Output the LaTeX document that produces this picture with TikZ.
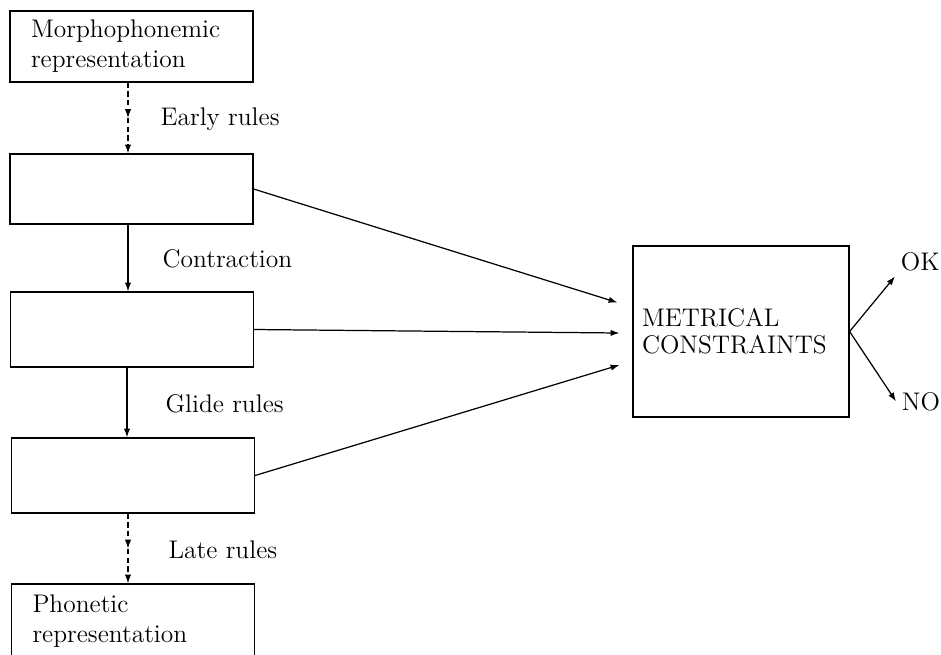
\documentclass[tikz,border=0pt]{standalone}
\usetikzlibrary{arrows.meta}
\usetikzlibrary{calc}
\usetikzlibrary{decorations.markings}

\tikzset{
  stage/.style={draw,line width=0.7pt,minimum width=4.86cm,text width=4.02cm,inner xsep=0.42cm,align=left,font=\fontsize{14.5}{17}\selectfont},
  lbl/.style={anchor=base west,inner sep=0pt,font=\fontsize{14.5}{17}\selectfont},
  midtip/.style={postaction={decorate},decoration={markings,mark=at position 0.5 with {\arrow{>}}}},
  dash line/.style={dash pattern=on 3pt off 2pt}
}

\begin{document}
\begin{tikzpicture}[x=0.02cm,y=-0.02cm,>={Latex[length=5pt,width=3.6pt]},line width=0.7pt]
			\useasboundingbox (0,0) rectangle (941,654);
			% stages on the left
			\node[stage,minimum height=1.42cm](morph)at(131.5,46.5){Morphophonemic\\representation};
			\node[stage,minimum height=1.40cm](s1)at(131.5,189){};
			\node[stage,minimum height=1.50cm](s2)at(132,329.5){};
			\node[stage,minimum height=1.50cm](s3)at(133,475.5){};
			\node[stage,minimum height=1.50cm](phon)at(133,621.5){Phonetic\\representation};
			% metrical check
			\node[draw,minimum width=4.32cm,minimum height=3.42cm,text width=3.96cm,inner xsep=0.18cm,align=left,font=\fontsize{14.5}{15.5}\selectfont](mc)at(741,331.5){METRICAL\\CONSTRAINTS};
			\node[lbl,inner sep=3pt,anchor=base west](ok)at(895,270){OK};
			\node[lbl,inner sep=3pt,anchor=base west](no)at(896,410){NO};
			% rule labels
			\node[lbl](early)at(160,125){Early rules};
			\node[lbl](contr)at(162,267){Contraction};
			\node[lbl](glide)at(165,412){Glide rules};
			\node[lbl](late)at(168,558){Late rules};
			% derivation
			\draw[->,dash line,midtip]([xshift=-0.07cm]morph.south)--([xshift=-0.07cm]morph.south|-s1.north);
			\draw[->]([xshift=-0.07cm]s1.south)--([xshift=-0.07cm]s1.south|-s2.north);
			\draw[->]([xshift=-0.1cm]s2.south)--([xshift=-0.1cm]s2.south|-s3.north);
			\draw[->,dash line,midtip]([xshift=-0.1cm]s3.south)--([xshift=-0.1cm]s3.south|-phon.north);
			% into the constraints
			\draw[->](s1.east)--($(mc.west)+(-15,-29)$);
			\draw[->](s2.east)--($(mc.west)+(-13,1.5)$);
			\draw[->](s3.east)--($(mc.west)+(-13,33.5)$);
			\draw[->](mc.east)--(ok.south west);
			\draw[->](mc.east)--(no.west);
		\end{tikzpicture}
\end{document}
